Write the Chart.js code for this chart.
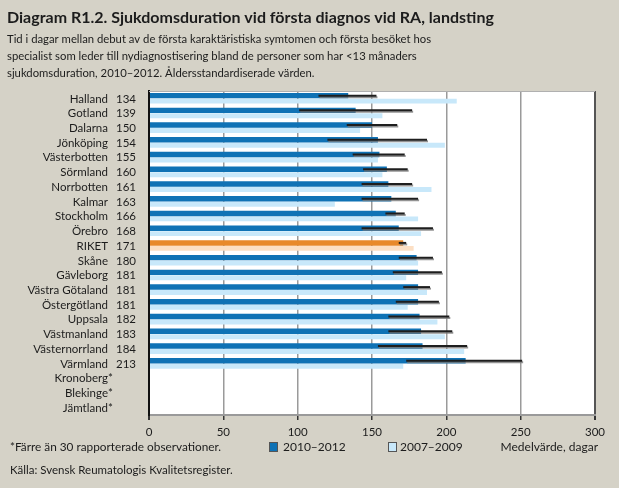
<!DOCTYPE html>
<html><head><meta charset="utf-8">
<script src="https://cdn.jsdelivr.net/npm/chart.js@4.4.1/dist/chart.umd.min.js"></script>
<style>html,body{margin:0;padding:0;background:#d5d2c7;}#wrap{width:619px;height:488px;position:relative;}</style>
</head><body><div id="wrap"><canvas id="c" width="619" height="488"></canvas></div>
<script>
const categories = ["Halland","Gotland","Dalarna","Jönköping","Västerbotten","Sörmland","Norrbotten","Kalmar","Stockholm","Örebro","RIKET","Skåne","Gävleborg","Västra Götaland","Östergötland","Uppsala","Västmanland","Västernorrland","Värmland","Kronoberg*","Blekinge*","Jämtland*"];
const values2010_2012 = [134,139,150,154,155,160,161,163,166,168,171,180,181,181,181,182,183,184,213,null,null,null];
const values2007_2009 = [207,157,142,199,154,157,190,125,181,183,178,181,173,187,174,194,199,212,171,null,null,null];
const ciLow  = [114,101,133,120,137,144,143,143,159,143,168,168,164,171,166,161,161,154,173,null,null,null];
const ciHigh = [153,177,167,187,172,174,177,181,172,191,173,191,197,189,195,202,204,214,251,null,null,null];
const xTicks = [0,50,100,150,200,250,300];

const FONT = "Lato, 'DejaVu Sans', sans-serif";
const TXT = '#1c1c1c';
const BG = '#d5d2c7';
const DARK = '#0f72b5', LIGHT = '#c8e8fa', ORANGE = '#e8892b', PEACH = '#fcdfc4';

const darkColors = categories.map(c => c === 'RIKET' ? ORANGE : DARK);
const lightColors = categories.map(c => c === 'RIKET' ? PEACH : LIGHT);

const decor = {
  id: 'decor',
  beforeDraw(chart) {
    const {ctx, chartArea: a} = chart;
    ctx.save();
    ctx.fillStyle = BG; ctx.fillRect(0,0,chart.width,chart.height);
    ctx.fillStyle = '#ffffff'; ctx.fillRect(a.left, a.top, a.right-a.left, a.bottom-a.top);
    // title
    ctx.fillStyle = TXT; ctx.textBaseline = 'alphabetic'; ctx.textAlign = 'left';
    ctx.font = "bold 16px " + FONT;
    ctx.fillText("Diagram R1.2. Sjukdomsduration vid första diagnos vid RA, landsting", 7, 23);
    ctx.font = "11.3px " + FONT;
    ctx.fillText("Tid i dagar mellan debut av de första karaktäristiska symtomen och första besöket hos", 7, 43);
    ctx.fillText("specialist som leder till nydiagnostisering bland de personer som har <13 månaders", 7, 60);
    ctx.fillText("sjukdomsduration, 2010–2012. Åldersstandardiserade värden.", 7, 77);
    // footer
    ctx.font = "11.8px " + FONT;
    ctx.fillText("*Färre än 30 rapporterade observationer.", 10, 451);
    ctx.font = "11.5px " + FONT;
    ctx.fillText("Källa: Svensk Reumatologis Kvalitetsregister.", 10, 474);
    // legend
    ctx.font = "12px " + FONT;
    ctx.fillStyle = DARK; ctx.fillRect(269, 442, 9, 10);
    ctx.strokeStyle = '#555'; ctx.lineWidth = 1; ctx.strokeRect(269.5, 442.5, 8, 9);
    ctx.fillStyle = LIGHT; ctx.fillRect(388, 442, 9, 10);
    ctx.strokeRect(388.5, 442.5, 8, 9);
    ctx.fillStyle = TXT;
    ctx.fillText("2010–2012", 283, 451);
    ctx.fillText("2007–2009", 400, 451);
    ctx.textAlign = 'right';
    ctx.fillText("Medelvärde, dagar", 598, 451);
    ctx.restore();
  },
  afterDatasetsDraw(chart) {
    const {ctx, chartArea: a} = chart;
    const xs = chart.scales.x, ys = chart.scales.y;
    const meta = chart.getDatasetMeta(0);
    ctx.save();
    for (let i = 0; i < categories.length; i++) {
      if (ciLow[i] == null) continue;
      const y = meta.data[i].y;
      const x1 = xs.getPixelForValue(ciLow[i]), x2 = xs.getPixelForValue(ciHigh[i]);
      ctx.strokeStyle = 'rgba(120,120,120,0.8)'; ctx.lineWidth = 2;
      ctx.beginPath(); ctx.moveTo(x1+1, y+1.5); ctx.lineTo(x2+1, y+1.5); ctx.stroke();
      ctx.strokeStyle = '#1e1e1e'; ctx.lineWidth = 2;
      ctx.beginPath(); ctx.moveTo(x1, y); ctx.lineTo(x2, y); ctx.stroke();
    }
    // frame
    ctx.strokeStyle = '#b0b0b0'; ctx.lineWidth = 1;
    ctx.beginPath(); ctx.moveTo(a.left, a.top+0.5); ctx.lineTo(a.right, a.top+0.5); ctx.stroke();
    // category labels + values
    ctx.fillStyle = TXT; ctx.font = "11.5px " + FONT; ctx.textBaseline = 'middle';
    for (let i = 0; i < categories.length; i++) {
      const y = ys.getPixelForValue(i) + 0.5;
      let name = categories[i];
      ctx.textAlign = 'right';
      if (name.endsWith('*')) {
        ctx.fillText(name.slice(0,-1), 108, y);
        ctx.textAlign = 'left';
        ctx.fillText('*', 108, y);
      } else {
        ctx.fillText(name, 108, y);
      }
      if (values2010_2012[i] != null) {
        ctx.textAlign = 'right';
        ctx.fillText(String(values2010_2012[i]), 136, y);
      }
    }
    ctx.restore();
  }
};

new Chart(document.getElementById('c'), {
  type: 'bar',
  data: {
    labels: categories,
    datasets: [
      {label: '2010–2012', data: values2010_2012, backgroundColor: darkColors, categoryPercentage: 0.74, barPercentage: 1.0, order: 1},
      {label: '2007–2009', data: values2007_2009, backgroundColor: lightColors, categoryPercentage: 0.74, barPercentage: 0.9, order: 2}
    ]
  },
  plugins: [decor],
  options: {
    indexAxis: 'y',
    responsive: false,
    animation: false,
    layout: {padding: {left: 0, top: 91, right: 24, bottom: 0}},
    plugins: {legend: {display: false}, tooltip: {enabled: false}, title: {display: false}},
    scales: {
      x: {
        min: 0, max: 300,
        afterFit(s) { s.height = 73; },
        afterBuildTicks(s) { s.ticks = xTicks.map(v => ({value: v})); },
        ticks: {color: TXT, font: {family: FONT, size: 11.5}, padding: 5, maxRotation: 0},
        grid: {
          color: ctx => ctx.tick && ctx.tick.value === 300 ? '#555' : (ctx.tick && ctx.tick.value === 0 ? '#111' : '#9a9a9a'),
          lineWidth: ctx => ctx.tick && (ctx.tick.value === 300 || ctx.tick.value === 0) ? 2 : 1.5,
          tickColor: '#333', tickLength: 5, drawOnChartArea: true
        },
        border: {display: true, color: '#9a9a9a', width: 2}
      },
      y: {
        afterFit(s) { s.width = 149; },
        ticks: {display: false},
        grid: {display: false, drawTicks: false},
        border: {display: true, color: '#111', width: 2}
      }
    }
  }
});
</script></body></html>
